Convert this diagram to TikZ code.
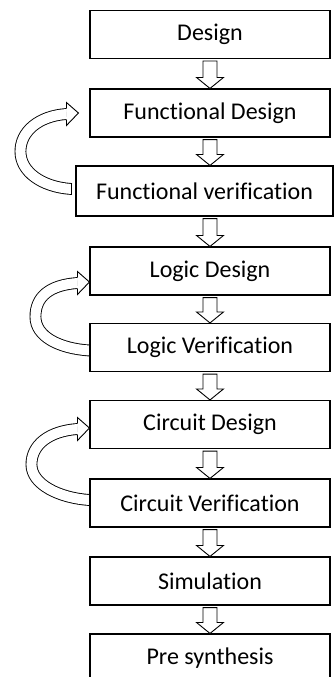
\documentclass[tikz,border=0pt]{standalone}
\usepackage{fontspec}
\setmainfont{Carlito}[Ligatures=NoCommon]
\usetikzlibrary{calc}

\tikzset{
  stage/.style={draw, line width=1.1pt, minimum width=240pt, minimum height=48pt,
    inner sep=0pt, font=\fontsize{24}{28}\selectfont},
  hollow/.style={draw, fill=white, line width=0.9pt, line join=miter},
  band/.style={double=white, double distance=10pt, line width=0.9pt},
}

% straight hollow arrow from the bottom of #1 to the top of #2
\newcommand{\flowarrow}[2]{%
  \coordinate (t) at (#1.south -| spine);
  \coordinate (h) at (#2.north -| spine);
  \draw[hollow] ($(t)+(-7,2)$) -- ($(h)+(-7,-11)$) -- ($(h)+(-13.5,-11)$) -- (h)
    -- ($(h)+(13.5,-11)$) -- ($(h)+(7,-11)$) -- ($(t)+(7,2)$) -- cycle;
}

% curved hollow arrow from the left of #3 back up to the left of #1
\newcommand{\loopback}[5]{%
  \coordinate (tip) at ($(#1.west)+#2$);
  \coordinate (tail) at ($(#3.west)+#4$);
  \coordinate (base) at ($(tip)+(-12,1)$);
  \coordinate (mid) at ($(tail)!0.5!(base)+(-#5,0)$);
  \draw[band] (tail) .. controls +(-30,-2) and +(0,20) .. (mid)
    .. controls +(0,-20) and +(-28,2) .. (base);
  \fill[white] ($(base)+(0,-11.5)$) -- (tip) -- ($(base)+(0,11.5)$) -- cycle;
  \draw[line width=0.9pt, line join=miter] ($(base)+(0,-5.5)$) -- ($(base)+(0,-11.5)$)
    -- (tip) -- ($(base)+(0,11.5)$) -- ($(base)+(0,5.5)$);
  \draw[line width=0.9pt] ($(tail)+(0,-5.9)$) -- ($(tail)+(0,5.9)$);
}

\begin{document}
\begin{tikzpicture}[x=1pt, y=-1pt]

  \useasboundingbox (0,0) rectangle (334,677);
  \coordinate (spine) at (210,0);

  % Stages
  \foreach \name/\ypos/\txt in {d/34.5/Design, fd/113/Functional Design,
      ld/271/Logic Design, lv/347.5/Logic Verification, cd/424.5/Circuit Design,
      cv/503/Circuit Verification, sim/581/Simulation, ps/658/Pre synthesis} {
    \node[stage] (\name) at (210,\ypos) {\txt};
  }
  \node[stage, minimum width=257pt, minimum height=50pt] (fv) at (204.5,191)
    {Functional verification};

  % Feedback loops
  \loopback{fd}{(-11,0)}{fv}{(-4,-2)}{48.5}
  \loopback{ld}{(0,11)}{lv}{(0,3)}{48}
  \loopback{cd}{(0,3.5)}{cv}{(0,-3)}{52}

  % Flow arrows
  \foreach \a/\b in {d/fd, fd/fv, fv/ld, ld/lv, lv/cd, cd/cv, cv/sim, sim/ps} {
    \flowarrow{\a}{\b}
  }

\end{tikzpicture}
\end{document}
